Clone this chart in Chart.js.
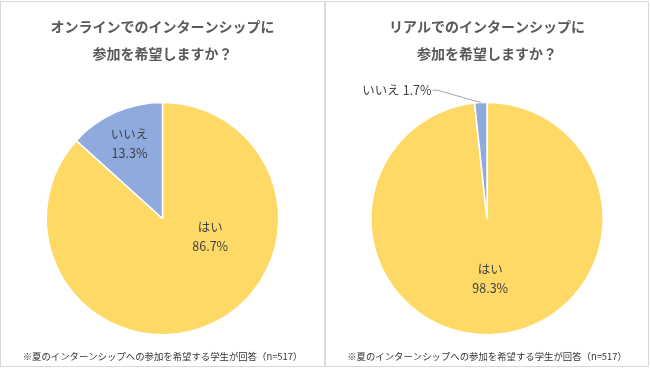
<!DOCTYPE html>
<html lang="ja">
<head>
<meta charset="utf-8">
<title>インターンシップ参加希望</title>
<script src="https://cdn.jsdelivr.net/npm/chart.js@4.4.1/dist/chart.umd.min.js"></script>
<style>
    html, body { margin: 0; padding: 0; background: #fff; }
    #wrap { position: relative; width: 650px; height: 368px; }
    .panel {
        position: absolute;
        top: 1px;
        height: 366px;
        box-sizing: border-box;
        border: 1px solid #d9d9d9;
    }
    .panel canvas { display: block; }
</style>
</head>
<body>
<div id="wrap">
    <div class="panel" style="left:0;width:325px;"><canvas id="chartOnline" width="323" height="364"></canvas></div>
    <div class="panel" style="left:325px;width:324px;"><canvas id="chartReal" width="322" height="364"></canvas></div>
</div>
<script>
// Data
const answerLabels = ['はい', 'いいえ'];
const onlineValues = [86.7, 13.3];
const realValues = [98.3, 1.7];
const onlineTitle = ['オンラインでのインターンシップに', '参加を希望しますか？'];
const realTitle = ['リアルでのインターンシップに', '参加を希望しますか？'];
const footNote = '※夏のインターンシップへの参加を希望する学生が回答（n=517）';

const FONT = "'Noto Sans CJK JP', 'Noto Sans', sans-serif";
const sliceColors = ['#FFD966', '#8FAADC'];

// Draws slice name + percentage, positioned from the arc geometry
const sliceLabels = {
    id: 'sliceLabels',
    afterDatasetsDraw(chart, args, opts) {
        const ctx = chart.ctx;
        const meta = chart.getDatasetMeta(0);
        const values = chart.data.datasets[0].data;
        ctx.save();
        ctx.font = '12.5px ' + FONT;
        ctx.fillStyle = '#404040';
        ctx.textBaseline = 'middle';
        meta.data.forEach((arc, i) => {
            const p = arc.getProps(['x', 'y', 'startAngle', 'endAngle', 'outerRadius'], true);
            const place = opts.places[i];
            const mid = (p.startAngle + p.endAngle) / 2;
            const ang = place.angle != null ? place.angle * Math.PI / 180 : mid;
            const lx = p.x + Math.cos(ang) * p.outerRadius * place.r;
            const ly = p.y + Math.sin(ang) * p.outerRadius * place.r;
            const name = chart.data.labels[i];
            const pct = values[i].toFixed(1) + '%';
            if (place.outside) {
                const ex = p.x + Math.cos(mid) * p.outerRadius;
                const ey = p.y + Math.sin(mid) * p.outerRadius;
                ctx.strokeStyle = '#a6a6a6';
                ctx.lineWidth = 1;
                ctx.beginPath();
                ctx.moveTo(ex, ey);
                ctx.lineTo(lx + 5, ly);
                ctx.lineTo(lx, ly);
                ctx.stroke();
                ctx.textAlign = 'right';
                ctx.fillText(name + ' ' + pct, lx - 1, ly);
            } else {
                ctx.textAlign = 'center';
                ctx.fillText(name, lx, ly - 9.5);
                ctx.fillText(pct, lx, ly + 9.5);
            }
        });
        ctx.restore();
    }
};

function initAnswerPie(ctx, title, values, places) {
    return new Chart(ctx, {
        type: 'pie',
        data: {
            labels: answerLabels,
            datasets: [{
                data: values,
                backgroundColor: sliceColors,
                borderColor: '#ffffff',
                borderWidth: 1.5,
                hoverOffset: 0
            }]
        },
        options: {
            responsive: false,
            animation: false,
            layout: { padding: 0 },
            plugins: {
                legend: { display: false },
                tooltip: { enabled: false },
                title: {
                    display: true,
                    text: title,
                    color: '#595959',
                    font: { family: FONT, size: 14, weight: 'bold', lineHeight: 1.88 },
                    padding: { top: 12, bottom: 35 }
                },
                subtitle: {
                    display: true,
                    position: 'bottom',
                    text: footNote,
                    color: '#333333',
                    font: { family: FONT, size: 9.4, lineHeight: 1.28 },
                    padding: { top: 14.5, bottom: 4 }
                },
                sliceLabels: { places: places }
            }
        },
        plugins: [sliceLabels]
    });
}

initAnswerPie(document.getElementById('chartOnline'), onlineTitle, onlineValues, [
    { r: 0.44, angle: 21 },
    { r: 0.7 }
]);
initAnswerPie(document.getElementById('chartReal'), realTitle, realValues, [
    { r: 0.52 },
    { r: 1.2, angle: -113, outside: true }
]);
</script>
</body>
</html>
